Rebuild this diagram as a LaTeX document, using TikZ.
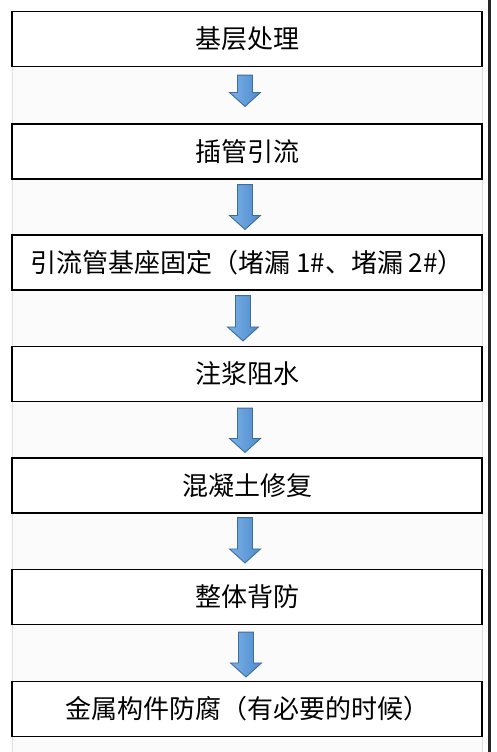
\documentclass[tikz,border=0pt]{standalone}
\usepackage{fontspec}
\setmainfont{Noto Sans CJK SC}
\usepackage{tikz}
\usetikzlibrary{calc}

\definecolor{arrowfill}{RGB}{78,140,205}
\definecolor{arrowlight}{RGB}{122,176,230}
\definecolor{arrowedge}{RGB}{62,108,158}

\begin{document}
\begin{tikzpicture}[x=1pt, y=-1pt,
    stepbox/.style={draw=black, line width=1.1pt, fill=white, minimum width=470pt,
        minimum height=55pt, inner sep=0pt, font=\fontsize{26}{30}\selectfont},
    flowarrow/.style={draw=arrowedge, line width=0.9pt, line join=miter,
        left color=arrowlight, right color=arrowfill,
        to path={let \p1=(\tikztostart), \p2=(\tikztotarget) in
            (\x1-7.5pt,\y1) -- (\x1+7.5pt,\y1) -- (\x1+7.5pt,\y2+14pt) -- (\x1+15.5pt,\y2+14pt)
            -- (\x1,\y2) -- (\x1-15.5pt,\y2+14pt) -- (\x1-7.5pt,\y2+14pt) -- cycle}}]
    % Page and table frame
    \useasboundingbox (0,0) rectangle (496,752);
    \fill[white] (0,0) rectangle (496,752);
    \fill[gray!3] (12,11) rectangle (482,752);
    \draw[gray!25, line width=0.8pt] (12,11) -- (12,752);
    \draw[gray!25, line width=0.8pt] (482,11) -- (482,752);
    \draw[black!85, line width=3pt] (489,0) -- (489,752);

    % Steps
    \node[stepbox] (base)   at (247,39)    {基层处理};
    \node[stepbox] (pipe)   at (247,151.5) {插管引流};
    \node[stepbox] (seat)   at (247,262.5) {引流管基座固定（堵漏 1\#、堵漏 2\#）};
    \node[stepbox] (grout)  at (247,374)   {注浆阻水};
    \node[stepbox] (repair) at (247,485.5) {混凝土修复};
    \node[stepbox] (back)   at (247,597)   {整体背防};
    \node[stepbox] (metal)  at (247,709)   {金属构件防腐（有必要的时候）};

    % Block arrows between steps
    \draw[flowarrow] ([xshift=-2pt,yshift=-8pt]base.south) to ([xshift=-2pt,yshift=17pt]pipe.north);
    \draw[flowarrow] ([xshift=-2pt,yshift=-5pt]pipe.south) to ([xshift=-2pt,yshift=5pt]seat.north);
    \draw[flowarrow] ([xshift=-4pt,yshift=-5pt]seat.south) to ([xshift=-4pt,yshift=5pt]grout.north);
    \draw[flowarrow] ([xshift=-2pt,yshift=-6pt]grout.south) to ([xshift=-2pt,yshift=5pt]repair.north);
    \draw[flowarrow] ([xshift=-2pt,yshift=-4pt]repair.south) to ([xshift=-2pt,yshift=6pt]back.north);
    \draw[flowarrow] ([xshift=-1pt,yshift=-7pt]back.south) to ([xshift=-1pt,yshift=4pt]metal.north);
\end{tikzpicture}
\end{document}
